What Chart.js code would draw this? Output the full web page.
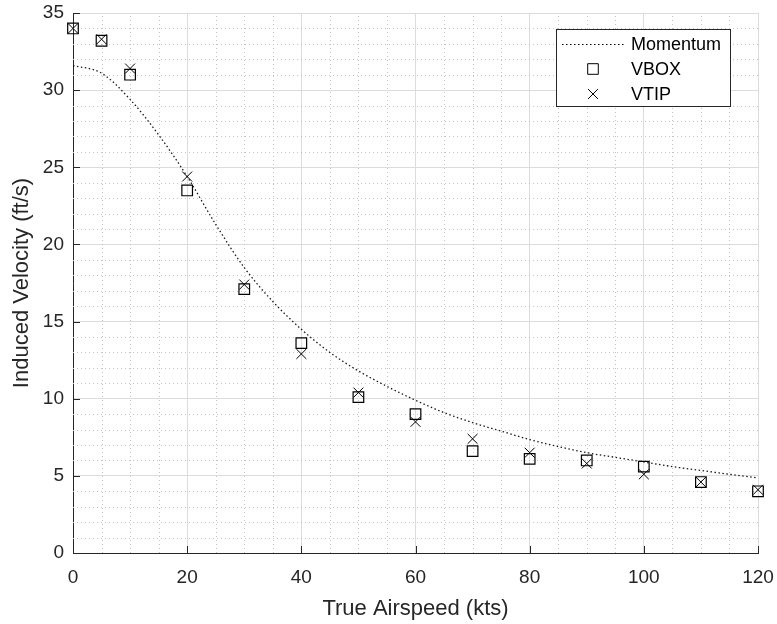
<!DOCTYPE html>
<html>
<head>
<meta charset="utf-8">
<script src="https://cdn.jsdelivr.net/npm/chart.js@4.4.0/dist/chart.umd.min.js"></script>
<style>
    html, body { margin: 0; padding: 0; background: #fff; }
    #wrap { width: 777px; height: 624px; position: relative; }
</style>
</head>
<body>
<div id="wrap"><canvas id="chart"></canvas></div>
<script>
// measured points (kts)
const airspeed = [0, 5, 10, 20, 30, 40, 50, 60, 70, 80, 90, 100, 110, 120];
const vbox = [34.0, 33.2, 31.0, 23.5, 17.1, 13.6, 10.1, 9.0, 6.6, 6.1, 6.0, 5.6, 4.6, 4.0];
const vtip = [34.0, 33.3, 31.4, 24.4, 17.4, 12.9, 10.4, 8.5, 7.4, 6.5, 5.8, 5.1, 4.6, 4.1];

// momentum theory curve
const momentumSpeed = [0, 5, 10, 15, 20, 25, 30, 35, 40, 45, 50, 55, 60, 65, 70, 75, 80, 85, 90, 95, 100, 105, 110, 115, 120];
const momentum = [31.6, 31.1, 29.4, 27.1, 24.4, 21.3, 18.5, 16.3, 14.5, 13.0, 11.8, 10.8, 9.9, 9.1, 8.45, 7.9, 7.35, 6.9, 6.5, 6.2, 5.9, 5.6, 5.35, 5.1, 4.87];

const xTicks = [0, 20, 40, 60, 80, 100, 120];
const yTicks = [0, 5, 10, 15, 20, 25, 30, 35];

const axisColor = '#262626';
const fontFamily = "'Liberation Sans', Arial, sans-serif";

const toXY = (xs, ys) => xs.map((x, i) => ({ x: x, y: ys[i] }));

// minor dotted grid, inward ticks and the boxed legend
const matlabAxes = {
    id: 'matlabAxes',
    beforeDatasetsDraw(chart) {
        const { ctx, chartArea: a, scales: { x, y } } = chart;
        ctx.save();
        ctx.strokeStyle = '#c4c4c4';
        ctx.lineWidth = 1;
        ctx.setLineDash([1, 3]);
        for (let v = 5; v < 120; v += 5) {
            if (v % 20 === 0) continue;
            const px = Math.round(x.getPixelForValue(v)) + 0.5;
            ctx.beginPath();
            ctx.moveTo(px, a.bottom);
            ctx.lineTo(px, a.top);
            ctx.stroke();
        }
        for (let v = 1; v < 35; v += 1) {
            if (v % 5 === 0) continue;
            const py = Math.round(y.getPixelForValue(v)) + 0.5;
            ctx.beginPath();
            ctx.moveTo(a.left, py);
            ctx.lineTo(a.right, py);
            ctx.stroke();
        }
        ctx.restore();
    },
    afterDatasetsDraw(chart) {
        const { ctx, chartArea: a, scales: { x, y } } = chart;
        ctx.save();
        ctx.strokeStyle = axisColor;
        ctx.lineWidth = 1;
        xTicks.forEach(v => {
            const px = Math.round(x.getPixelForValue(v)) + 0.5;
            ctx.beginPath();
            ctx.moveTo(px, a.bottom);
            ctx.lineTo(px, a.bottom - 7);
            ctx.stroke();
        });
        yTicks.forEach(v => {
            const py = Math.round(y.getPixelForValue(v)) + 0.5;
            ctx.beginPath();
            ctx.moveTo(a.left, py);
            ctx.lineTo(a.left + 7, py);
            ctx.stroke();
        });

        // legend
        const lx = 556.5, ly = 29.5, lw = 174, lh = 77;
        ctx.fillStyle = '#fff';
        ctx.fillRect(lx, ly, lw, lh);
        ctx.strokeStyle = axisColor;
        ctx.strokeRect(lx, ly, lw, lh);
        ctx.font = '18px ' + fontFamily;
        ctx.textBaseline = 'middle';
        const rows = [44, 69, 94];
        chart.data.datasets.forEach((ds, i) => {
            const cy = rows[i];
            ctx.fillStyle = '#000';
            ctx.fillText(ds.label, 631, cy + 1);
            ctx.strokeStyle = '#000';
            if (i === 0) {
                ctx.setLineDash([1.5, 2.5]);
                ctx.lineWidth = 1.2;
                ctx.beginPath();
                ctx.moveTo(562, cy + 0.5);
                ctx.lineTo(624, cy + 0.5);
                ctx.stroke();
                ctx.setLineDash([]);
            } else {
                ctx.fillStyle = 'rgba(0,0,0,0)';
                ctx.lineWidth = 1;
                Chart.helpers.drawPoint(ctx, {
                    pointStyle: ds.pointStyle,
                    radius: ds.pointRadius,
                    rotation: 0,
                    borderWidth: 1
                }, 593, cy);
            }
        });
        ctx.restore();
    }
};

const chartCtx = document.getElementById('chart').getContext('2d');
const chart = new Chart(chartCtx, {
    type: 'scatter',
    data: {
        datasets: [
            {
                label: 'Momentum',
                data: toXY(momentumSpeed, momentum),
                showLine: true,
                borderColor: '#1a1a1a',
                borderWidth: 1.3,
                borderDash: [1.5, 2.5],
                pointRadius: 0,
                cubicInterpolationMode: 'monotone',
                order: 3
            },
            {
                label: 'VBOX',
                data: toXY(airspeed, vbox),
                pointStyle: 'rect',
                pointRadius: 7.5,
                borderColor: '#000',
                backgroundColor: 'rgba(0,0,0,0)',
                borderWidth: 1.2,
                clip: false,
                order: 2
            },
            {
                label: 'VTIP',
                data: toXY(airspeed, vtip),
                pointStyle: 'crossRot',
                pointRadius: 7,
                borderColor: '#000',
                backgroundColor: 'rgba(0,0,0,0)',
                borderWidth: 1,
                clip: false,
                order: 1
            }
        ]
    },
    options: {
        responsive: true,
        maintainAspectRatio: false,
        animation: false,
        layout: { padding: { top: 13, right: 19, left: 0, bottom: 0 } },
        plugins: {
            legend: { display: false },
            tooltip: { enabled: false }
        },
        scales: {
            x: {
                type: 'linear',
                min: 0,
                max: 120,
                afterBuildTicks: s => { s.ticks = xTicks.map(v => ({ value: v })); },
                afterFit: s => { s.height = 71; s.paddingLeft = 0; s.paddingRight = 0; },
                ticks: { color: axisColor, font: { size: 19, family: fontFamily }, padding: 13, maxRotation: 0 },
                grid: { color: '#dcdcdc', drawTicks: false },
                border: { color: axisColor, width: 1 },
                title: {
                    display: true,
                    text: 'True Airspeed (kts)',
                    color: axisColor,
                    font: { size: 22, family: fontFamily },
                    padding: { top: 0, bottom: 2 }
                }
            },
            y: {
                min: 0,
                max: 35,
                afterBuildTicks: s => { s.ticks = yTicks.map(v => ({ value: v })); },
                afterFit: s => { s.width = 73; s.paddingTop = 0; s.paddingBottom = 0; },
                ticks: { color: axisColor, font: { size: 19, family: fontFamily }, padding: 9 },
                grid: { color: '#dcdcdc', drawTicks: false },
                border: { color: axisColor, width: 1 },
                title: {
                    display: true,
                    text: 'Induced Velocity (ft/s)',
                    color: axisColor,
                    font: { size: 22, family: fontFamily },
                    padding: { top: 9, bottom: 0 }
                }
            }
        }
    },
    plugins: [matlabAxes]
});
</script>
</body>
</html>
